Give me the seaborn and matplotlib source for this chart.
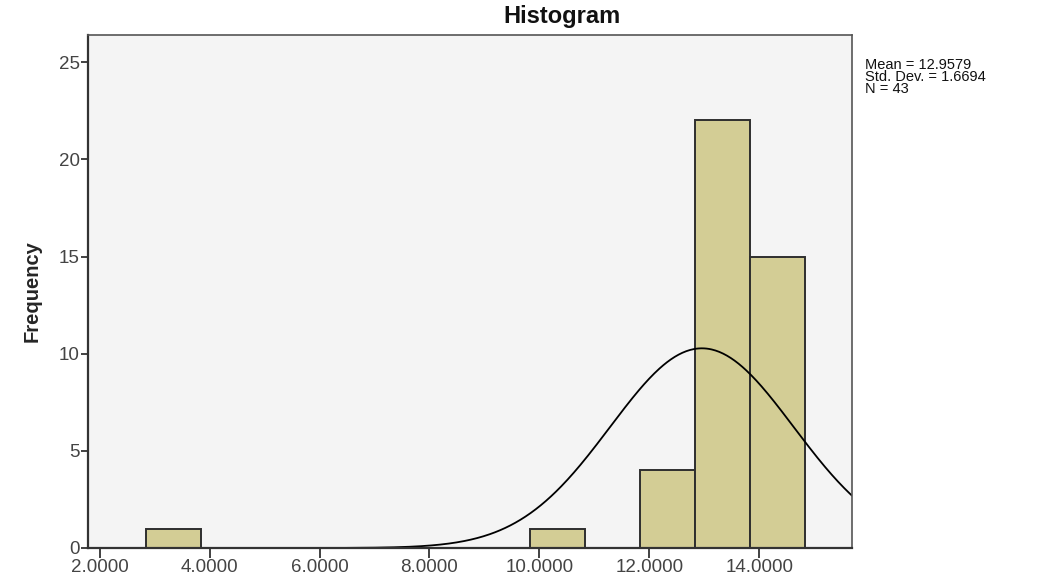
import numpy as np
import pandas as pd
import matplotlib
matplotlib.use("Agg")
import matplotlib.pyplot as plt
import seaborn as sns

# ---- data ----
bin_left = [2.835, 9.835, 11.835, 12.835, 13.835]
counts = [1, 1, 4, 22, 15]
bin_width = 1.0
mean_val = 12.9579
std_val = 1.6694
n_val = 43
x_ticks = [2, 4, 6, 8, 10, 12, 14]
y_ticks = [0, 5, 10, 15, 20, 25]

sns.set_theme(style="white")
plt.rcParams['font.family'] = ['Liberation Sans', 'DejaVu Sans']

fig = plt.figure(figsize=(10.37, 5.80), dpi=100)
ax = fig.add_axes([88/1037, 1-548/580, (852-88)/1037, (548-35)/580])
ax.set_facecolor('#f4f4f4')

df = pd.DataFrame({"x": [b + bin_width/2 for b in bin_left], "w": counts})
edges = [float(v) for v in np.arange(bin_left[0], bin_left[-1] + bin_width*1.5, bin_width)]
sns.histplot(data=df, x="x", weights="w", bins=edges, ax=ax,
             color='#d3cd95', edgecolor='#2e2e2e', linewidth=1.4, alpha=1.0)
for p in ax.patches:
    if p.get_height() == 0:
        p.set_visible(False)

xmin, xmax = 1.787, 15.69
xs = np.linspace(xmin, xmax, 600)
ys = n_val * bin_width * np.exp(-0.5*((xs-mean_val)/std_val)**2) / (std_val*np.sqrt(2*np.pi))
sns.lineplot(x=xs, y=ys, ax=ax, color='black', linewidth=1.3)

ax.set_xlim(xmin, xmax)
ax.set_ylim(0, 26.4)
ax.set_xticks(x_ticks)
ax.set_xticklabels([f"{v:.4f}" for v in x_ticks])
ax.set_yticks(y_ticks)
ax.set_xlabel("")
ax.set_ylabel("Frequency", fontsize=14.5, fontweight='bold',
              family=['Liberation Sans Narrow', 'Liberation Sans'], labelpad=12)
ax.tick_params(axis='both', which='both', direction='out', length=5, width=1.3,
               colors='#333333', labelsize=13.5, labelcolor='#444444',
               bottom=True, left=True)
ax.tick_params(axis='x', pad=1, length=7)
ax.tick_params(axis='y', pad=1)
for s in ['left', 'bottom']:
    ax.spines[s].set_color('#333333')
    ax.spines[s].set_linewidth(1.6)
for s in ['top', 'right']:
    ax.spines[s].set_color('#555555')
    ax.spines[s].set_linewidth(1.2)

fig.text(562/1037, 1-17/580, "Histogram", ha='center', va='center',
         fontsize=17, fontweight='bold', color='#111111')
stat_text = f"Mean = {mean_val:.4f}\nStd. Dev. = {std_val:.4f}\nN = {n_val}"
fig.text(865/1037, 1-58/580, stat_text, ha='left', va='top',
         fontsize=10.5, linespacing=0.83, color='#111111')

fig.savefig("out.png", dpi=100, facecolor='white')
